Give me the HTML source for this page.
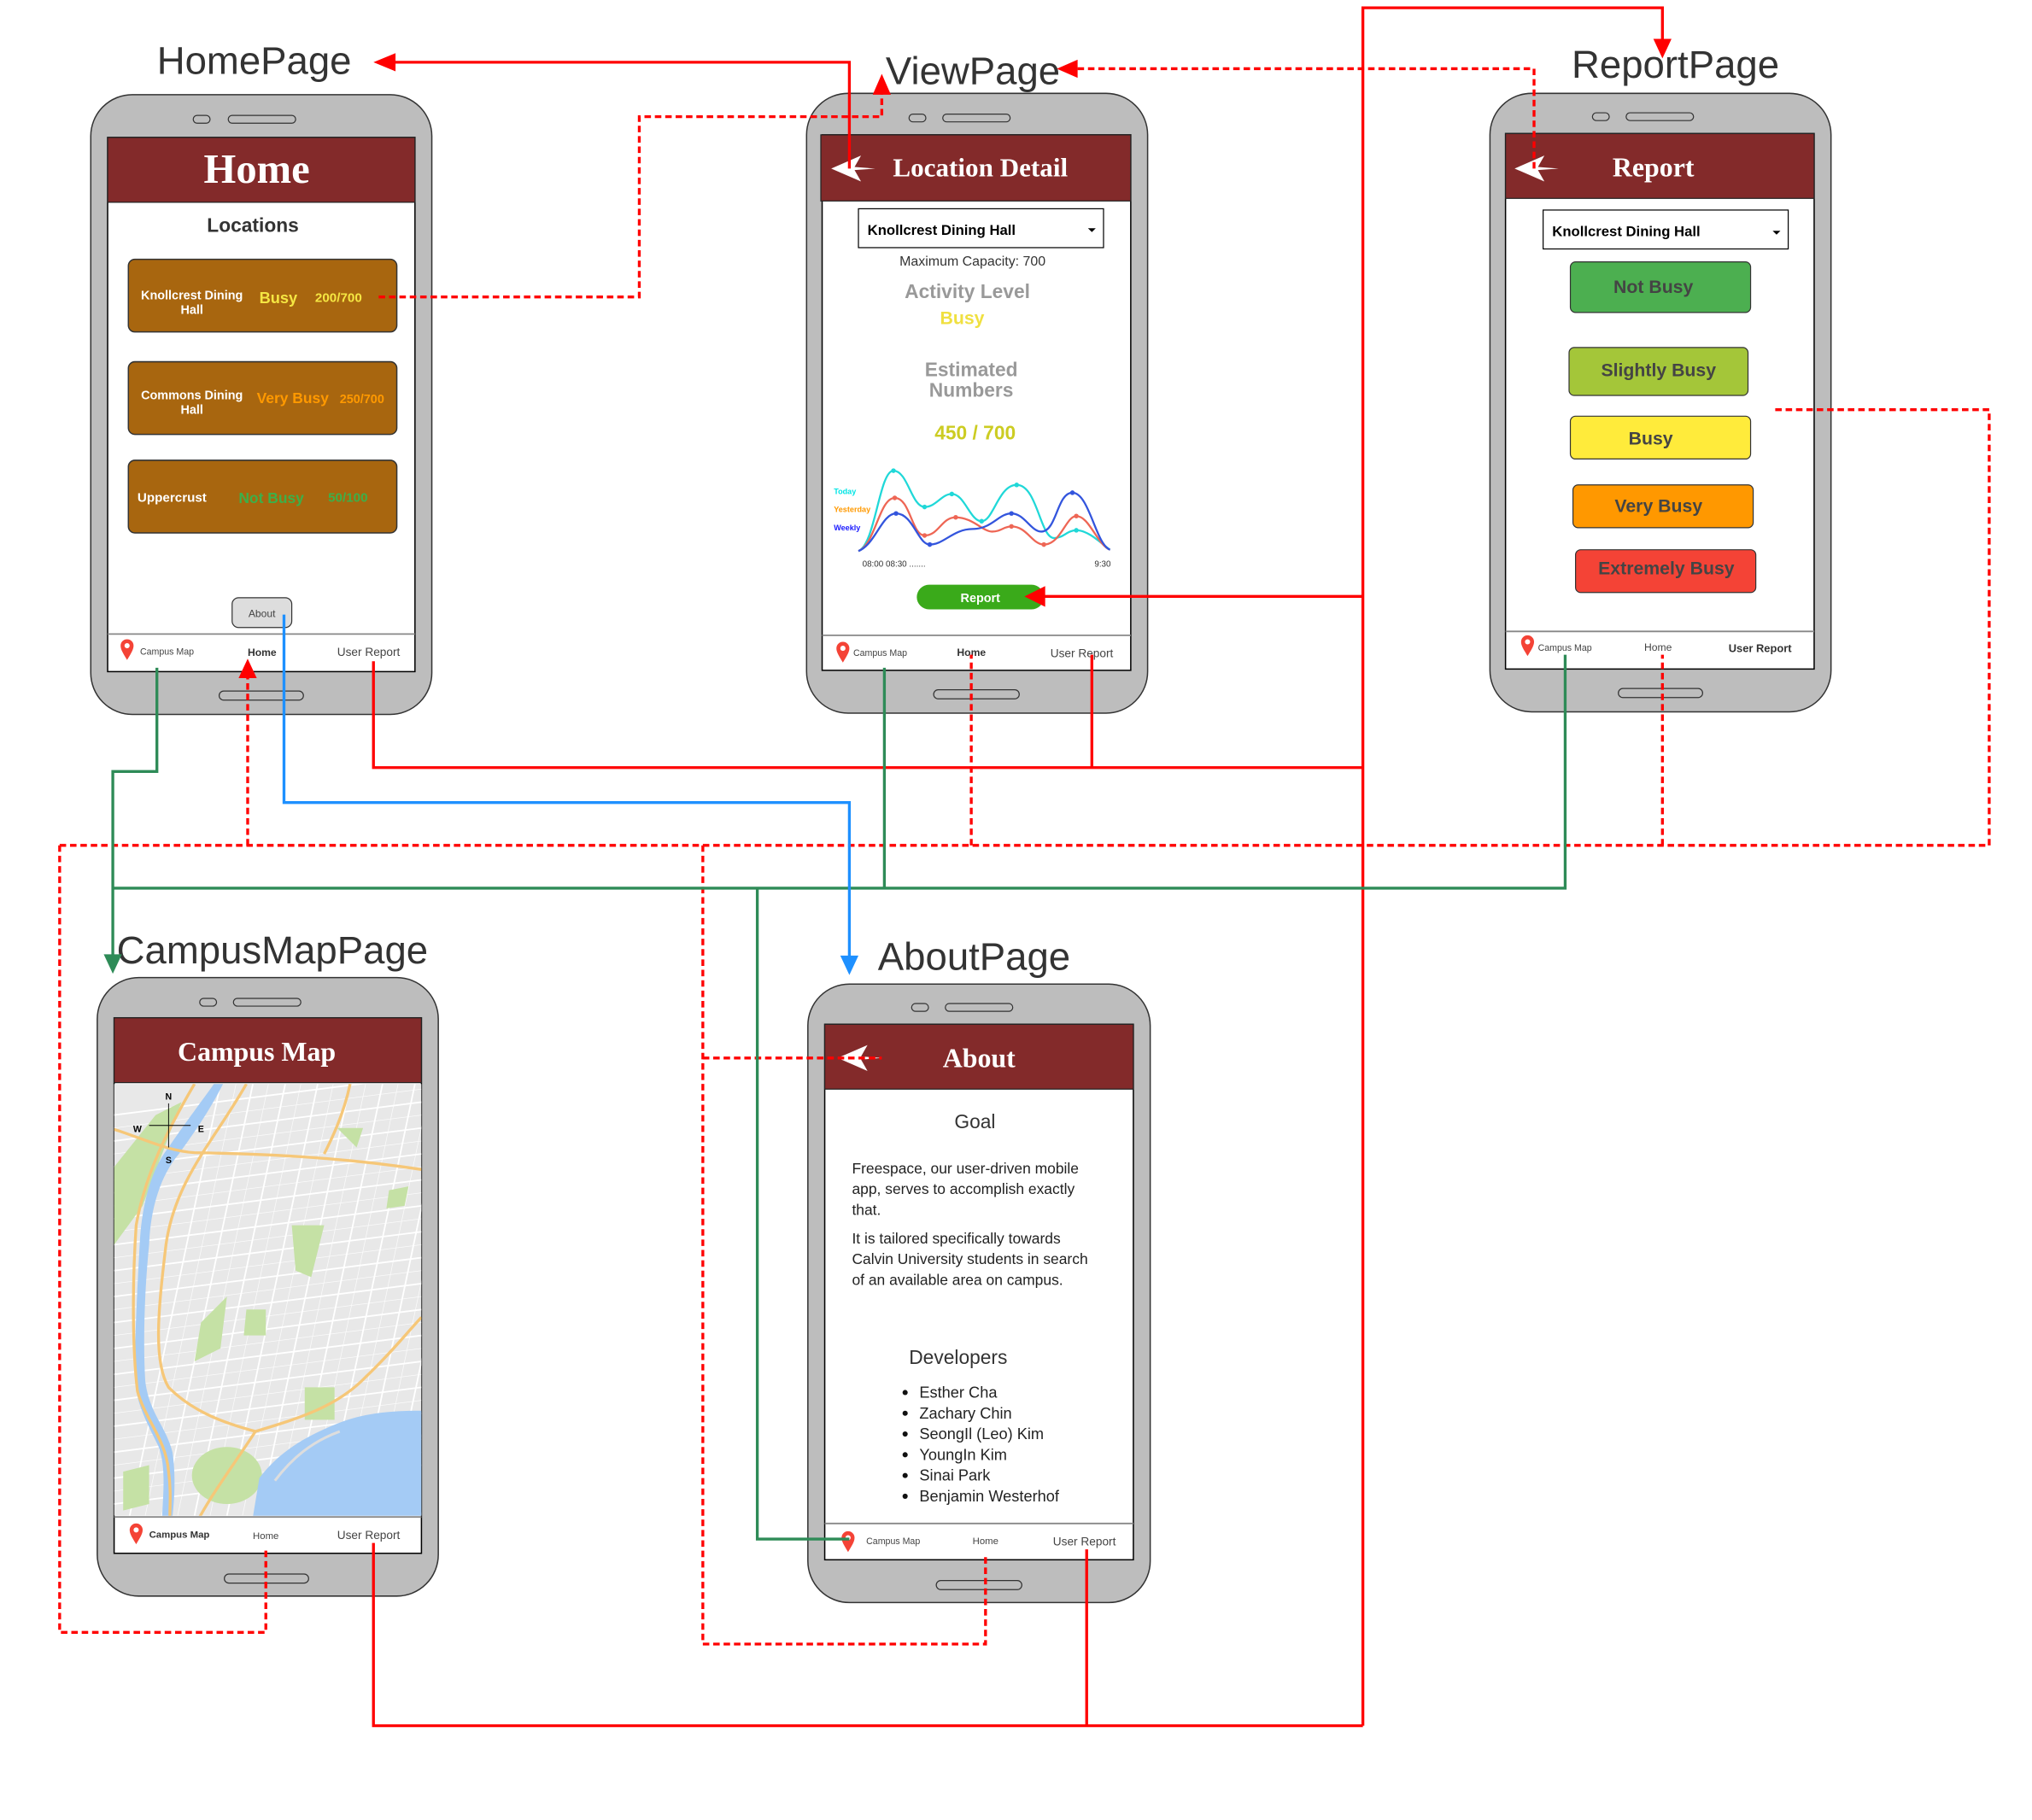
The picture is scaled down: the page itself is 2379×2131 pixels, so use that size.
<!DOCTYPE html>
<html><head><meta charset="utf-8"><style>
html,body{margin:0;padding:0;background:#fff;width:2379px;height:2131px;overflow:hidden}
svg{display:block}
text{font-family:"Liberation Sans",sans-serif}
.ser{font-family:"Liberation Serif",serif;font-weight:bold;fill:#fff}
.lbl{font-size:30px;fill:#333}
.nav{font-size:7px;fill:#444}
</style></head><body>
<svg width="2379" height="2131" viewBox="0 0 1567 1403.7" preserveAspectRatio="none" xmlns="http://www.w3.org/2000/svg">
<defs>
<g id="pin"><path d="M0,8 C-3,3 -5,0 -5,-3 A5,5 0 0 1 5,-3 C5,0 3,3 0,8Z" fill="#f44336"/><circle cx="0" cy="-3" r="2" fill="#fff"/></g>
<g id="back"><polygon points="-23,0 0,-10 -5,-1.2 11,0 -5,1.2 0,10" fill="#fff"/></g>
<clipPath id="mapclip"><rect x="88" y="836" width="237" height="333"/></clipPath>
</defs>

<!-- ========== HOME PHONE ========== -->
<rect x="70" y="73" width="263" height="478" rx="32" fill="#bdbdbd" stroke="#333" stroke-width="1"/>
<rect x="149" y="89" width="13" height="6" rx="3" fill="none" stroke="#333" stroke-width=".8"/>
<rect x="176" y="89" width="52" height="6" rx="3" fill="none" stroke="#333" stroke-width=".8"/>
<rect x="169" y="533" width="65" height="7" rx="3.5" fill="none" stroke="#333" stroke-width=".8"/>
<rect x="83" y="106" width="237" height="412" fill="#fff" stroke="#000" stroke-width="1"/>
<rect x="83" y="106" width="237" height="50" fill="#832a2a" stroke="#222" stroke-width=".8"/>
<text x="198" y="141" text-anchor="middle" class="ser" font-size="32">Home</text>
<text x="195" y="179" text-anchor="middle" font-size="15" font-weight="bold" fill="#333">Locations</text>
<rect x="99" y="200" width="207" height="56" rx="5" fill="#a8660f" stroke="#333"/>
<text x="148" y="231" text-anchor="middle" font-size="9.5" font-weight="bold" fill="#fff">Knollcrest Dining</text>
<text x="148" y="242" text-anchor="middle" font-size="9.5" font-weight="bold" fill="#fff">Hall</text>
<text x="200" y="234" font-size="12" font-weight="bold" fill="#f5e642">Busy</text>
<text x="243" y="233" font-size="10" font-weight="bold" fill="#f5e642">200/700</text>
<rect x="99" y="279" width="207" height="56" rx="5" fill="#a8660f" stroke="#333"/>
<text x="148" y="308" text-anchor="middle" font-size="9.5" font-weight="bold" fill="#fff">Commons Dining</text>
<text x="148" y="319" text-anchor="middle" font-size="9.5" font-weight="bold" fill="#fff">Hall</text>
<text x="198" y="311" font-size="11.5" font-weight="bold" fill="#ff9900">Very Busy</text>
<text x="262" y="311" font-size="9.5" font-weight="bold" fill="#ff9900">250/700</text>
<rect x="99" y="355" width="207" height="56" rx="5" fill="#a8660f" stroke="#333"/>
<text x="106" y="387" font-size="10" font-weight="bold" fill="#fff">Uppercrust</text>
<text x="184" y="388" font-size="11.5" font-weight="bold" fill="#3cb04a">Not Busy</text>
<text x="253" y="387" font-size="10" font-weight="bold" fill="#3cb04a">50/100</text>
<rect x="179" y="461" width="46" height="23" rx="5" fill="#ddd" stroke="#333" stroke-width=".8"/>
<text x="202" y="476" text-anchor="middle" font-size="8" fill="#444">About</text>
<line x1="83" y1="489" x2="320" y2="489" stroke="#888" stroke-width="1.2"/>
<use href="#pin" x="98" y="501"/>
<text x="108" y="505" class="nav">Campus Map</text>
<text x="191" y="506" font-size="8" font-weight="bold" fill="#333">Home</text>
<text x="260" y="506" font-size="9" fill="#444">User Report</text>

<!-- ========== VIEW PHONE ========== -->
<rect x="622" y="72" width="263" height="478" rx="32" fill="#bdbdbd" stroke="#333"/>
<rect x="701" y="88" width="13" height="6" rx="3" fill="none" stroke="#333" stroke-width=".8"/>
<rect x="727" y="88" width="52" height="6" rx="3" fill="none" stroke="#333" stroke-width=".8"/>
<rect x="720" y="532" width="66" height="7" rx="3.5" fill="none" stroke="#333" stroke-width=".8"/>
<rect x="634" y="104" width="238" height="413" fill="#fff" stroke="#000"/>
<rect x="633" y="104" width="239" height="51" fill="#832a2a" stroke="#222" stroke-width=".8"/>
<use href="#back" x="664" y="130"/>
<text x="756" y="136" text-anchor="middle" class="ser" font-size="20.5">Location Detail</text>
<rect x="662" y="161" width="189" height="30" fill="#fff" stroke="#000" stroke-width=".8"/>
<text x="669" y="181" font-size="11" font-weight="bold" fill="#000">Knollcrest Dining Hall</text>
<polygon points="839,176 845,176 842,179" fill="#000"/>
<text x="750" y="205" text-anchor="middle" font-size="10.5" fill="#333">Maximum Capacity: 700</text>
<text x="746" y="230" text-anchor="middle" font-size="15" font-weight="bold" fill="#999">Activity Level</text>
<text x="742" y="250" text-anchor="middle" font-size="14" font-weight="bold" fill="#f0e040">Busy</text>
<text x="749" y="290" text-anchor="middle" font-size="15" font-weight="bold" fill="#999">Estimated</text>
<text x="749" y="306" text-anchor="middle" font-size="15" font-weight="bold" fill="#999">Numbers</text>
<text x="752" y="339" text-anchor="middle" font-size="15" font-weight="bold" fill="#cccc22">450 / 700</text>
<text x="643" y="381" font-size="6" font-weight="bold" fill="#00e5e5">Today</text>
<text x="643" y="395" font-size="6" font-weight="bold" fill="#ff9900">Yesterday</text>
<text x="643" y="409" font-size="6" font-weight="bold" fill="#1a1aff">Weekly</text>
<path d="M662,425 C675,420 678,363 689,363 C700,363 703,391 713,391 C722,391 726,381 734,381 C744,381 748,402 757,402 C766,402 770,374 784,374 C800,374 802,415 813,415 C820,415 823,409 830,409 C840,409 850,420 856,424" fill="none" stroke="#20d8d8" stroke-width="1.5"/>
<path d="M662,425 C675,420 678,384 690,384 C702,384 703,413 713,413 C724,413 726,399 737,399 C750,399 758,410 765,410 C772,410 774,406 780,406 C792,406 796,420 805,420 C818,420 822,398 830,398 C840,398 846,420 856,424" fill="none" stroke="#ee6655" stroke-width="1.5"/>
<path d="M662,425 C675,420 680,396 691,396 C704,396 708,420 717,420 C728,420 735,408 750,408 C765,408 770,396 780,396 C790,396 795,410 803,410 C815,410 815,380 827,380 C840,380 845,420 856,424" fill="none" stroke="#3355dd" stroke-width="1.5"/>
<g fill="#20d8d8"><circle cx="689" cy="363" r="1.8"/><circle cx="713" cy="391" r="1.8"/><circle cx="734" cy="381" r="1.8"/><circle cx="757" cy="402" r="1.8"/><circle cx="784" cy="374" r="1.8"/><circle cx="830" cy="409" r="1.8"/></g>
<g fill="#ee6655"><circle cx="690" cy="384" r="1.8"/><circle cx="713" cy="413" r="1.8"/><circle cx="737" cy="399" r="1.8"/><circle cx="780" cy="406" r="1.8"/><circle cx="805" cy="420" r="1.8"/><circle cx="830" cy="398" r="1.8"/></g>
<g fill="#3355dd"><circle cx="691" cy="396" r="1.8"/><circle cx="717" cy="420" r="1.8"/><circle cx="780" cy="396" r="1.8"/><circle cx="827" cy="380" r="1.8"/></g>
<text x="665" y="437" font-size="6.5" fill="#333">08:00  08:30  .......</text>
<text x="844" y="437" font-size="6.5" fill="#333">9:30</text>
<rect x="707" y="451" width="98" height="19" rx="9.5" fill="#3aaa1a"/>
<text x="756" y="464.5" text-anchor="middle" font-size="9.5" font-weight="bold" fill="#fff">Report</text>
<line x1="634" y1="490" x2="872" y2="490" stroke="#888" stroke-width="1.2"/>
<use href="#pin" x="650" y="503"/>
<text x="658" y="506" class="nav">Campus Map</text>
<text x="738" y="506" font-size="8" font-weight="bold" fill="#333">Home</text>
<text x="810" y="507" font-size="9" fill="#444">User Report</text>

<!-- ========== REPORT PHONE ========== -->
<rect x="1149" y="72" width="263" height="477" rx="32" fill="#bdbdbd" stroke="#333"/>
<rect x="1228" y="87" width="13" height="6" rx="3" fill="none" stroke="#333" stroke-width=".8"/>
<rect x="1254" y="87" width="52" height="6" rx="3" fill="none" stroke="#333" stroke-width=".8"/>
<rect x="1248" y="531" width="65" height="7" rx="3.5" fill="none" stroke="#333" stroke-width=".8"/>
<rect x="1161" y="103" width="238" height="413" fill="#fff" stroke="#000"/>
<rect x="1161" y="103" width="238" height="50" fill="#832a2a" stroke="#222" stroke-width=".8"/>
<use href="#back" x="1191" y="130"/>
<text x="1275" y="136" text-anchor="middle" class="ser" font-size="21">Report</text>
<rect x="1190" y="162" width="189" height="30" fill="#fff" stroke="#000" stroke-width=".8"/>
<text x="1197" y="182" font-size="11" font-weight="bold" fill="#000">Knollcrest Dining Hall</text>
<polygon points="1367,178 1373,178 1370,181" fill="#000"/>
<g stroke="#333" stroke-width=".8" font-weight="bold" font-size="14" text-anchor="middle">
<rect x="1211" y="202" width="139" height="39" rx="4" fill="#4caf50"/>
<rect x="1210" y="268" width="138" height="37" rx="4" fill="#a4c639"/>
<rect x="1211" y="321" width="139" height="33" rx="4" fill="#ffeb3b"/>
<rect x="1213" y="374" width="139" height="33" rx="4" fill="#ff9800"/>
<rect x="1215" y="424" width="139" height="33" rx="4" fill="#f44336"/>
</g>
<g font-weight="bold" font-size="14" text-anchor="middle" fill="#444">
<text x="1275" y="226">Not Busy</text>
<text x="1279" y="290">Slightly Busy</text>
<text x="1273" y="343">Busy</text>
<text x="1279" y="395">Very Busy</text>
<text x="1285" y="443">Extremely Busy</text>
</g>
<line x1="1161" y1="487" x2="1399" y2="487" stroke="#888" stroke-width="1.2"/>
<use href="#pin" x="1178" y="498"/>
<text x="1186" y="502" class="nav">Campus Map</text>
<text x="1268" y="502" font-size="8" fill="#444">Home</text>
<text x="1333" y="503" font-size="8.5" font-weight="bold" fill="#333">User Report</text>

<!-- ========== CAMPUS MAP PHONE ========== -->
<rect x="75" y="754" width="263" height="477" rx="32" fill="#bdbdbd" stroke="#333"/>
<rect x="154" y="770" width="13" height="6" rx="3" fill="none" stroke="#333" stroke-width=".8"/>
<rect x="180" y="770" width="52" height="6" rx="3" fill="none" stroke="#333" stroke-width=".8"/>
<rect x="173" y="1214" width="65" height="7" rx="3.5" fill="none" stroke="#333" stroke-width=".8"/>
<rect x="88" y="785" width="237" height="413" fill="#fff" stroke="#000"/>
<rect x="88" y="785" width="237" height="50" fill="#832a2a" stroke="#222" stroke-width=".8"/>
<text x="198" y="818" text-anchor="middle" class="ser" font-size="21">Campus Map</text>
<g clip-path="url(#mapclip)">
<rect x="88" y="836" width="237" height="333" fill="#e8e8e8"/>
<g stroke="#fff" stroke-width="1.2">
<path d="M88,860 L325,830 M88,880 L325,850 M88,900 L325,870 M88,920 L325,890 M88,940 L325,910 M88,960 L325,930 M88,980 L325,950 M88,1000 L325,970 M88,1020 L325,990 M88,1040 L325,1010 M88,1060 L325,1030 M88,1080 L325,1050 M88,1100 L325,1070 M88,1120 L325,1090 M88,1140 L325,1110 M88,1160 L325,1130"/>
<path d="M100,1169 L170,836 M125,1169 L195,836 M150,1169 L220,836 M175,1169 L245,836 M200,1169 L270,836 M225,1169 L295,836 M250,1169 L320,836 M275,1169 L345,836 M300,1169 L370,836 M325,1169 L395,836"/>
</g>
<g stroke="#fff" stroke-width="0.5" opacity=".8">
<path d="M88,870 L325,840 M88,890 L325,860 M88,910 L325,880 M88,930 L325,900 M88,950 L325,920 M88,970 L325,940 M88,990 L325,960 M88,1010 L325,980 M88,1030 L325,1000 M88,1050 L325,1020 M88,1070 L325,1040 M88,1090 L325,1060 M88,1110 L325,1080 M88,1130 L325,1100 M88,1150 L325,1120"/>
<path d="M112,1169 L182,836 M137,1169 L207,836 M162,1169 L232,836 M187,1169 L257,836 M212,1169 L282,836 M237,1169 L307,836 M262,1169 L332,836 M287,1169 L357,836 M312,1169 L382,836"/>
</g>
<g fill="#c5e1a5">
<path d="M88,960 L88,900 L120,860 L140,850 L110,930Z"/>
<path d="M225,945 L250,945 L240,985 L228,980Z"/>
<path d="M190,1010 L205,1010 L205,1030 L188,1030Z"/>
<path d="M235,1070 L258,1070 L258,1095 L235,1095Z"/>
<path d="M155,1020 L175,1000 L170,1040 L150,1050Z"/>
<path d="M300,918 L315,915 L312,930 L298,932Z"/>
<ellipse cx="175" cy="1138" rx="27" ry="22"/>
<path d="M260,870 L280,870 L275,885Z"/>
<path d="M95,1135 L115,1130 L115,1160 L95,1165Z"/>
</g>
<path d="M172,836 C160,860 145,880 138,890 C125,905 116,930 115,960 C112,990 110,1030 112,1065 C115,1090 128,1100 133,1120 C136,1140 134,1160 133,1170 L125,1170 C126,1150 128,1130 122,1115 C112,1095 104,1080 104,1060 C104,1030 106,990 108,955 C110,925 118,900 130,885 C140,870 155,850 165,836Z" fill="#a4cbf5"/>
<path d="M200,1140 C215,1120 235,1108 260,1098 C280,1090 300,1088 325,1088 L325,1170 L195,1170Z" fill="#a4cbf5"/>
<path d="M212,1142 C225,1125 240,1112 262,1104" fill="none" stroke="#ddd" stroke-width="2"/>
<g fill="none" stroke="#f6c778" stroke-width="2.2">
<path d="M88,871 C110,878 130,888 150,889 C200,890 260,892 325,902"/>
<path d="M190,836 C165,880 135,910 128,960 C122,1010 118,1050 130,1070 C150,1090 175,1098 197,1104 C230,1094 260,1085 282,1062 C300,1045 312,1030 325,1016"/>
<path d="M150,836 C130,870 112,905 105,945 C102,990 102,1040 106,1073 C112,1095 128,1110 130,1135 C132,1150 131,1160 131,1170"/>
<path d="M197,1104 C180,1130 165,1150 154,1170"/>
<path d="M270,836 C265,860 255,880 250,890"/>
</g>
</g>
<line x1="130" y1="851" x2="130" y2="885" stroke="#000" stroke-width=".6"/>
<line x1="115" y1="868" x2="147" y2="868" stroke="#000" stroke-width=".6"/>
<g font-size="7" font-weight="bold" fill="#000" text-anchor="middle">
<text x="130" y="848">N</text><text x="106" y="873">W</text><text x="155" y="873">E</text><text x="130" y="897">S</text>
</g>
<line x1="88" y1="1170" x2="325" y2="1170" stroke="#888" stroke-width="1.2"/>
<use href="#pin" x="105" y="1183"/>
<text x="115" y="1186" font-size="7.5" font-weight="bold" fill="#333">Campus Map</text>
<text x="195" y="1187" font-size="7.5" fill="#444">Home</text>
<text x="260" y="1187" font-size="9" fill="#444">User Report</text>

<!-- ========== ABOUT PHONE ========== -->
<rect x="623" y="759" width="264" height="477" rx="32" fill="#bdbdbd" stroke="#333"/>
<rect x="703" y="774" width="13" height="6" rx="3" fill="none" stroke="#333" stroke-width=".8"/>
<rect x="729" y="774" width="52" height="6" rx="3" fill="none" stroke="#333" stroke-width=".8"/>
<rect x="722" y="1219" width="66" height="7" rx="3.5" fill="none" stroke="#333" stroke-width=".8"/>
<rect x="636" y="790" width="238" height="413" fill="#fff" stroke="#000"/>
<rect x="636" y="790" width="238" height="50" fill="#832a2a" stroke="#222" stroke-width=".8"/>
<use href="#back" x="669" y="816"/>
<text x="755" y="823" text-anchor="middle" class="ser" font-size="21">About</text>
<text x="736" y="870" font-size="15" fill="#333">Goal</text>
<g font-size="11.5" fill="#222">
<text x="657" y="905">Freespace, our user-driven mobile</text>
<text x="657" y="921">app, serves to accomplish exactly</text>
<text x="657" y="937">that.</text>
<text x="657" y="959">It is tailored specifically towards</text>
<text x="657" y="975">Calvin University students in search</text>
<text x="657" y="991">of an available area on campus.</text>
</g>
<text x="701" y="1052" font-size="15" fill="#333">Developers</text>
<g font-size="12" fill="#222">
<circle cx="698" cy="1074" r="2" fill="#111"/><text x="709" y="1078">Esther Cha</text>
<circle cx="698" cy="1090" r="2" fill="#111"/><text x="709" y="1094">Zachary Chin</text>
<circle cx="698" cy="1106" r="2" fill="#111"/><text x="709" y="1110">SeongIl (Leo) Kim</text>
<circle cx="698" cy="1122" r="2" fill="#111"/><text x="709" y="1126">YoungIn Kim</text>
<circle cx="698" cy="1138" r="2" fill="#111"/><text x="709" y="1142">Sinai Park</text>
<circle cx="698" cy="1154" r="2" fill="#111"/><text x="709" y="1158">Benjamin Westerhof</text>
</g>
<line x1="636" y1="1175" x2="874" y2="1175" stroke="#888" stroke-width="1.2"/>
<use href="#pin" x="654" y="1189"/>
<text x="668" y="1191" class="nav">Campus Map</text>
<text x="750" y="1191" font-size="7.5" fill="#444">Home</text>
<text x="812" y="1192" font-size="9" fill="#444">User Report</text>

<!-- ========== PAGE LABELS ========== -->
<text x="121" y="57" class="lbl">HomePage</text>
<text x="683" y="65" class="lbl">ViewPage</text>
<text x="1212" y="60" class="lbl">ReportPage</text>
<text x="90" y="743" class="lbl">CampusMapPage</text>
<text x="677" y="748" class="lbl">AboutPage</text>

<!-- ========== CONNECTORS ========== -->
<g fill="none" stroke="#ff0000" stroke-width="2.2">
<path d="M655,130 V48 H300"/>
<path d="M288,510 V592 H1051"/>
<path d="M842,505 V592"/>
<path d="M288,1190 V1331 H1051"/>
<path d="M838,1195 V1331"/>
<path d="M1051,1331 V6 H1282 V32"/>
<path d="M1051,460 H803"/>
</g>
<g fill="none" stroke="#ff0000" stroke-width="2.2" stroke-dasharray="5,3">
<path d="M292,229 H493 V90 H680 V72"/>
<path d="M1183,130 V53 H828"/>
<path d="M46,652 H1534 V316 H1369"/>
<path d="M46,652 V1259 H205 V1195"/>
<path d="M191,652 V522"/>
<path d="M749,652 V505"/>
<path d="M1282,652 V505"/>
<path d="M542,652 V1268 H760 V1200"/>
<path d="M542,816 H680"/>
</g>
<g fill="none" stroke="#2e8b57" stroke-width="2.2">
<path d="M121,515 V595 H87 V738"/>
<path d="M87,685 H1207 V505"/>
<path d="M682,515 V685"/>
<path d="M584,685 V1187 H655"/>
</g>
<path d="M219,474 V619 H655 V738" fill="none" stroke="#1e90ff" stroke-width="2.2"/>
<!-- arrowheads -->
<g fill="#ff0000">
<polygon points="288,48 305,41 305,55"/>
<polygon points="1282,45 1275,30 1289,30"/>
<polygon points="790,460 806,452 806,468"/>
<polygon points="680,57 673,73 687,73"/>
<polygon points="815,53 831,46 831,60"/>
<polygon points="191,508 184,523 198,523"/>
</g>
<polygon points="87,751 80,736 94,736" fill="#2e8b57"/>
<polygon points="655,752 648,737 662,737" fill="#1e90ff"/>
</svg>
</body></html>
